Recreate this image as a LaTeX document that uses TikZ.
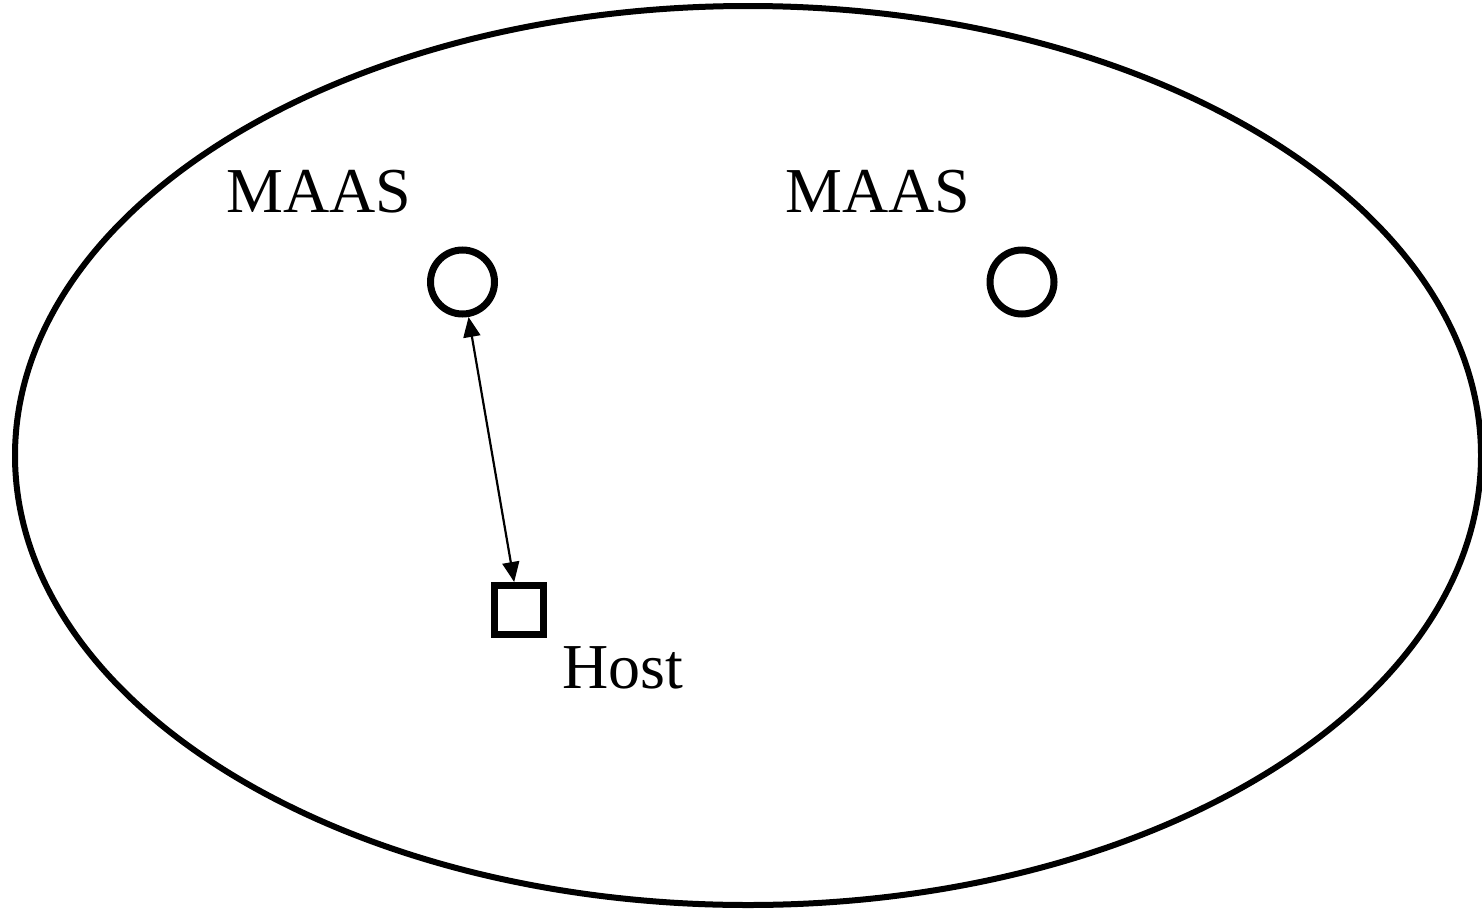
\documentclass[tikz,border=0pt]{standalone}
\usepackage{fontspec}
\setmainfont{Liberation Serif}
\usetikzlibrary{arrows.meta}
\begin{document}
\begin{tikzpicture}[x=1pt,y=-1pt,
  maas/.style={circle,draw,line width=7pt,minimum size=64pt,inner sep=0pt},
  hostbox/.style={rectangle,draw,line width=7pt,minimum size=49pt,inner sep=0pt},
  lbl/.style={anchor=base west,inner sep=0pt,font=\fontsize{64}{64}\selectfont},
  link/.style={line width=2.2pt,{Triangle[length=20pt,width=17pt]}-{Triangle[length=20pt,width=17pt]}}]
\useasboundingbox (0,0) rectangle (1482,910);
\draw[line width=6pt] (748,455.5) ellipse [x radius=733, y radius=449.5];
\node[maas] (m1) at (462.5,282) {};
\node[maas] (m2) at (1022,282) {};
\node[hostbox] (h) at (519,610) {};
\node[lbl] (t1) at (226,212) {MAAS};
\node[lbl] (t2) at (785,212) {MAAS};
\node[lbl] (t3) at (562,688) {Host};
\draw[link] (m1) -- (h);
\end{tikzpicture}
\end{document}
